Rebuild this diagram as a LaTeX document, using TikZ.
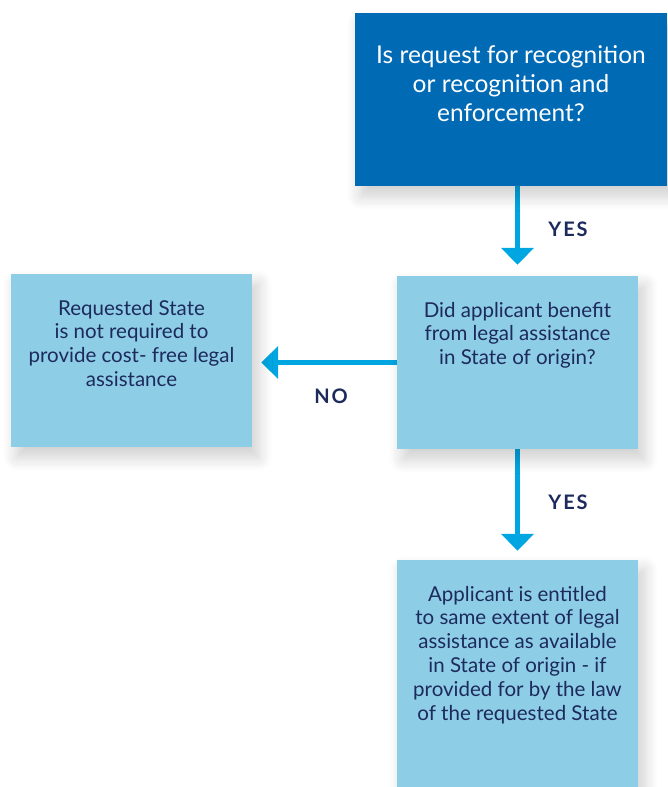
\documentclass[tikz,border=0pt]{standalone}
\usepackage{fontspec}
\setmainfont{Lato}
\usepackage{tikz}
\usetikzlibrary{arrows.meta,shadows.blur}
\definecolor{darkbox}{HTML}{006AB5}
\definecolor{lightbox}{HTML}{8DCDE6}
\definecolor{arrowblue}{HTML}{00A6E2}
\definecolor{navy}{HTML}{1D2A5C}
\pgfdeclarelayer{nodelayer}
\pgfdeclarelayer{edgelayer}
\pgfsetlayers{edgelayer,nodelayer,main}
\tikzstyle{shade box}=[blur shadow={shadow xshift=6pt, shadow yshift=-10pt, shadow blur steps=12, shadow opacity=20, shadow blur radius=14pt}]
\tikzstyle{question}=[fill=darkbox, shape=rectangle, inner sep=0pt, text=white, style=shade box]
\tikzstyle{answer}=[fill=lightbox, shape=rectangle, inner sep=0pt, text=navy, style=shade box]
\tikzstyle{branch}=[text=navy, font=\fontsize{20}{22}\selectfont\bfseries\addfontfeature{LetterSpace=9}]
\tikzstyle{flow edge}=[-{Triangle[width=32pt,length=17pt]}, draw=arrowblue, line width=5pt]
\newcommand{\boxtext}[3]{\parbox[c][#2pt][t]{#1pt}{\centering\fontsize{20.5}{23.8}\selectfont\vspace*{26pt}#3\par}}

\begin{document}
\begin{tikzpicture}[x=1pt, y=-1pt]
	\useasboundingbox (0, 0) rectangle (667, 787);
	\begin{pgfonlayer}{nodelayer}
		\node [style=question] (0) at (511, 99.5) {\parbox[c][173pt][t]{312pt}{\centering\fontsize{24.5}{29}\selectfont\vspace*{33pt}Is request for recognition\\or recognition and\\enforcement?\par}};
		\node [style=answer] (1) at (517.5, 362.5) {\boxtext{241}{173}{Did applicant benefit\\from legal assistance\\in State of origin?}};
		\node [style=answer] (2) at (131.5, 360.5) {\boxtext{241}{173}{Requested State\\is not required to\\provide cost- free legal\\assistance}};
		\node [style=answer] (3) at (517.5, 673.5) {\boxtext{241}{227}{Applicant is entitled\\to same extent of legal\\assistance as available\\in State of origin - if\\provided for by the law\\of the requested State}};
		\node [style=branch] (4) at (568, 229) {YES};
		\node [style=branch] (5) at (331, 396) {NO};
		\node [style=branch] (6) at (568, 502) {YES};
	\end{pgfonlayer}
	\begin{pgfonlayer}{edgelayer}
		\draw [style=flow edge, shorten >=11pt] (1.north |- 0.south) to (1.north);
		\draw [style=flow edge, shorten >=9pt] (1.west) to (1.west -| 2.east);
		\draw [style=flow edge, shorten >=9pt] (1.south) to (3.north);
	\end{pgfonlayer}
\end{tikzpicture}
\end{document}
